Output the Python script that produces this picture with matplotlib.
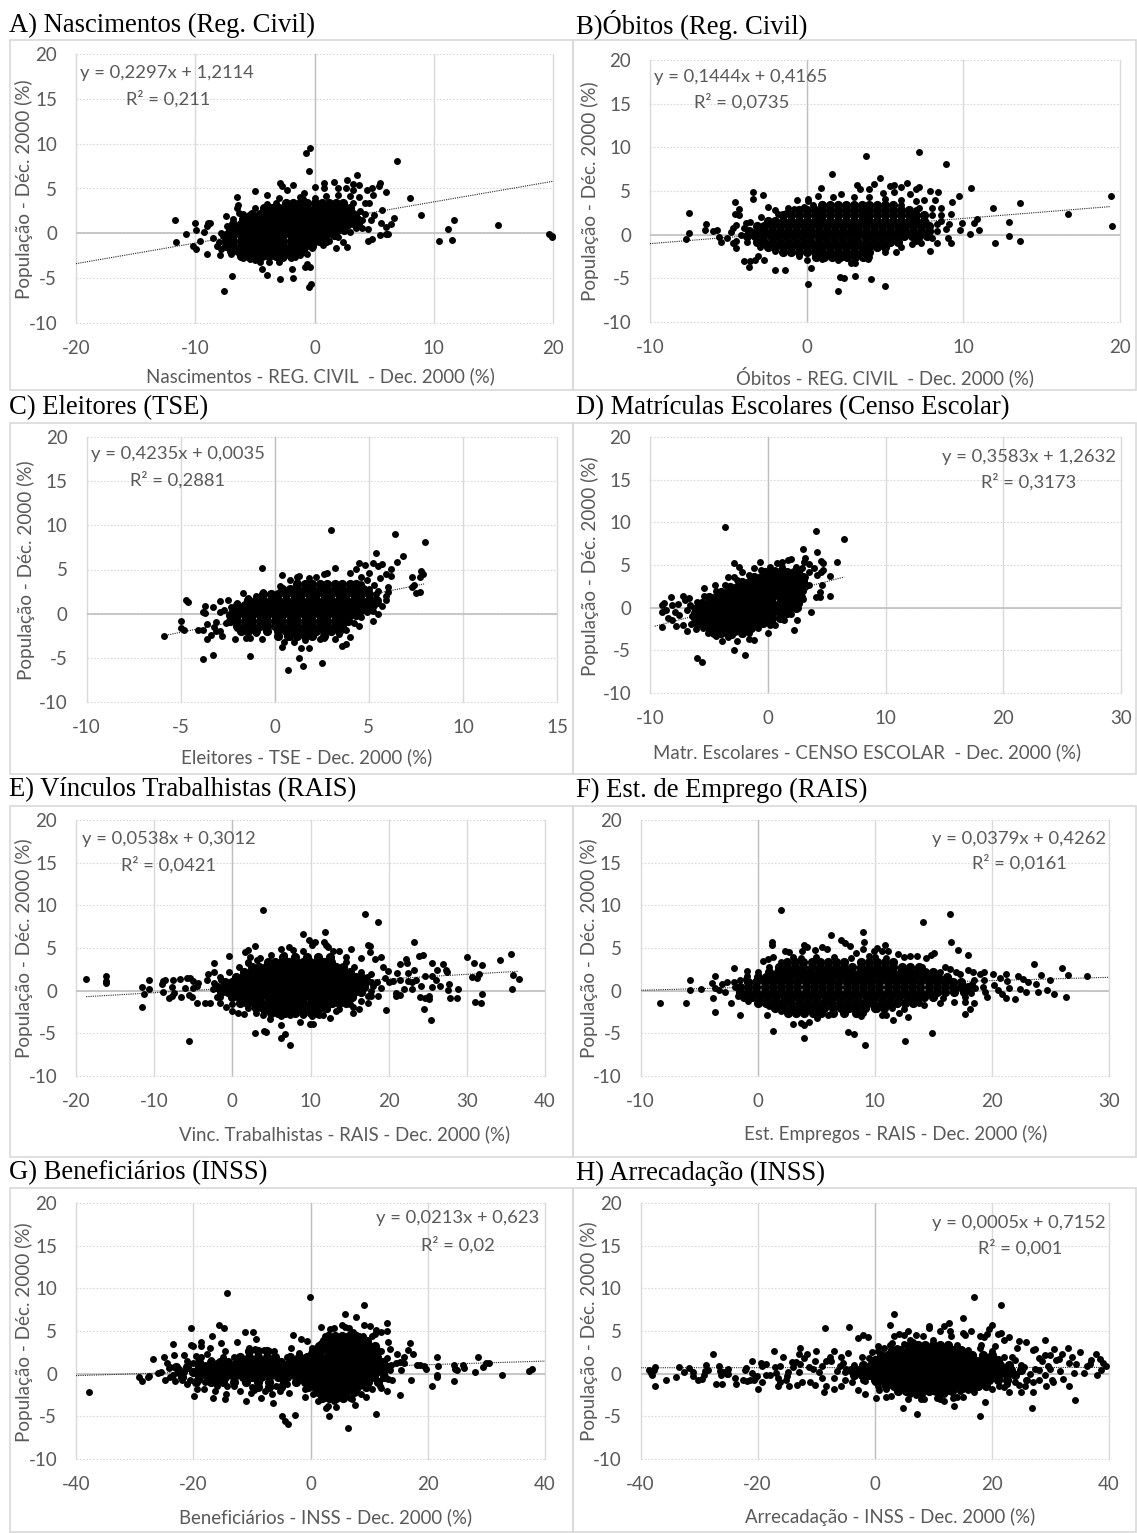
import matplotlib
matplotlib.use("Agg")
import matplotlib.pyplot as plt
from matplotlib.patches import Rectangle

W, H = 1137, 1533
GRAY = "#595959"
LIGHT = "#D9D9D9"

# valores: pontos soltos em pares, borda das nuvens, miolo por linhas
a_pts = [(-11.7,1.5),(-11.6,-1),(-10.8,-0.1),(-10.2,-1.4),(-10,1.2),(-9.9,0.4),(-9.9,-1.8),(-9.6,-0.9),(-9,0.8),(-8.9,1.1),(-8.8,1.2),(-9,-2.3),(-9.3,0.2),(-8.5,-0.5),(-8.2,-1.4),(-7.9,-2.4),(-7.7,-0.3),(-7.6,-6.4),(-7.4,1.9),(-6.9,-4.8),(-6.5,4),(-6.4,3.2),(-6.5,2.8),(-6.3,2.3),(-5,4.7),(-5.5,2),(-4.4,-4),(-4,-4.7),(-4,4.3),(-2.9,-5.1),(-2.9,5.6),(-2.7,5.3),(-1.8,5.4),(-2.3,4.8),(-1.9,-4),(-1.8,-5),(-0.9,4.5),(-0.7,9),(-0.4,9.5),(-0.5,6.9),(-0.5,-6),(-0.3,-5.6),(-0.6,-3.4),(-0.8,-3.7),(-0.4,-3.7),(-0.6,-2.3),(0,5.2),(0.8,5.6),(0.8,5),(1.6,5.7),(2,5),(2.6,5),(2.7,5.9),(3.2,5.5),(3.6,6.5),(3.7,5.4),(3.2,4.8),(4.4,4.8),(4.8,5.1),(5.4,5.3),(5.5,5.6),(4.9,4.3),(6,4.6),(6.9,8.1),(8,3.9),(8.9,2),(10.4,-0.8),(11.2,0.5),(11.5,-0.7),(11.7,1.5),(15.4,0.9),(19.7,-0.1),(19.9,-0.3),(19.9,-0.4),(5.7,2.6),(6.7,1.7),(6.4,1),(6,0.7),(5.6,1.2),(6.2,-0.1),(6,-0.1),(5.5,-0.2),(4.8,-0.6),(4.5,-0.8),(4.5,0.5),(4,0.6),(5,2),(4.7,1.5),(4.2,3.4),(4.6,3.4),(2.7,-1.5),(1.8,-1.6),(2.4,-1),(0.7,-1.3),(3.5,2),(3.8,2.5),(4,1.5),(3.7,1),(-6,-2.7),(-5.4,-2.9),(-4.6,-3.2),(-3.8,-3.2),(-2.6,-2.8),(-2,-2.8),(-1.6,-2.6),(-3,3.9),(-1.2,4.1),(1,4.2),(2,4.3),(3,4.2),(3.7,4.1)]
a_edge = [(-7.8,-1.8),(-8,-1),(-7.8,0),(-7.3,0.8),(-6.8,1.6),(-6,2.2),(-5,2.8),(-4,3.3),(-3.2,3.4),(-7,-2.3),(-5,-3),(-3,-3.2),(-1.2,-2.4),(-0.2,-1.6),(1.2,-0.8),(2,-0.4),(3,0.2),(3.5,0.6),(4.2,2.2),(3.2,3.4),(0,3.9),(-1,3.8)]
a_core_y = [3.4, 2.8, 2.2, 1.6, 1.0, 0.4, -0.2, -0.8, -1.4, -2.0, -2.5]
a_core_x = [
    [-2.4,-1.8,-1.2,-0.6,0,0.6,1.2,1.8,2.4],
    [-4.2,-3.6,-3,-2.4,-1.8,-1.2,-0.6,0,0.6,1.2,1.8,2.4,3],
    [-5.2,-4.6,-4,-3.4,-2.8,-2.2,-1.6,-1,-0.4,0.2,0.8,1.4,2,2.6,3.2],
    [-6,-5.4,-4.8,-4.2,-3.6,-3,-2.4,-1.8,-1.2,-0.6,0,0.6,1.2,1.8,2.4,3,3.6],
    [-6.8,-6.2,-5.6,-5,-4.4,-3.8,-3.2,-2.6,-2,-1.4,-0.8,-0.2,0.4,1,1.6,2.2,2.8,3.4],
    [-7.1,-6.5,-5.9,-5.3,-4.7,-4.1,-3.5,-2.9,-2.3,-1.7,-1.1,-0.5,0.1,0.7,1.3,1.9,2.5],
    [-7.4,-6.8,-6.2,-5.6,-5,-4.4,-3.8,-3.2,-2.6,-2,-1.4,-0.8,-0.2,0.4,1,1.6],
    [-7.4,-6.8,-6.2,-5.6,-5,-4.4,-3.8,-3.2,-2.6,-2,-1.4,-0.8,-0.2,0.4,1],
    [-7.4,-6.8,-6.2,-5.6,-5,-4.4,-3.8,-3.2,-2.6,-2,-1.4,-0.8,-0.2],
    [-7,-6.4,-5.8,-5.2,-4.6,-4,-3.4,-2.8,-2.2,-1.6,-1],
    [-6.2,-5.6,-5,-4.4,-3.8,-3.2,-2.6,-2],
]

b_pts = [(-7.7,-0.5),(-7.5,0.2),(-7.5,2.5),(-6.5,0.5),(-6.4,1.2),(-6,0.4),(-5.7,0.5),(-5.6,-0.3),(-5.5,-0.8),(-5.1,-0.4),(-4.8,0.3),(-4.7,-1),(-4.7,0.8),(-4.6,2.4),(-4.5,-1.5),(-4.5,1.1),(-4.5,-0.7),(-4.6,3.7),(-4.3,2.9),(-4.3,2.2),(-3.9,1.3),(-3.4,4.9),(-3.4,4.1),(-3.7,-3.7),(-4,-3),(-3.6,-3),(-3.1,-2.4),(-3.3,-2.9),(-2.8,4.5),(-2.5,3.2),(-2.7,-2.9),(-2,-4),(-1.4,-4),(-2,2.8),(-1.3,2.5),(-0.6,4),(0.1,3.9),(0.1,4.1),(0.7,4.4),(0.9,5.4),(1.6,7),(1.7,4.3),(2.2,4.7),(1,3.5),(0.3,-3.8),(0.1,-5.6),(0,-2.9),(2,-6.4),(2.1,-4.8),(2.4,-5),(3.1,-4.7),(2.8,-3.2),(3.1,-3.3),(3.9,-2.8),(4.1,-5.1),(3.8,9),(3.2,5.7),(3.4,5.2),(4,5.2),(4.3,5.8),(4.7,6.5),(4.9,4.8),(5.3,5.6),(5.6,5.7),(5.6,4.9),(6,5.5),(5,-5.9),(6.4,5.9),(7,5.2),(7.2,5.5),(7.2,9.5),(7.9,5),(8.4,4.9),(8.9,8.1),(8.2,4),(7.5,4),(6.6,4.7),(5.7,-2),(7.9,-1.9),(6.7,-1.1),(7.3,-0.9),(8.3,-1),(9.2,-1),(9,-0.4),(8.6,3.1),(8.6,2.3),(8.6,1.6),(9.2,2.4),(9.3,3.7),(9.7,4.4),(9.1,1.2),(8.9,0.6),(9.8,0.5),(9.9,1.3),(10.4,0.1),(10.5,5.4),(10.9,1.8),(10.7,1.3),(11,0.5),(11.9,3),(12,-1),(12.9,-0.1),(12.9,1.4),(13.6,3.6),(13.6,-0.7),(16.7,2.4),(19.4,4.4),(19.5,1),(3,4.3),(4,4.3),(5,4.1),(6,4),(7,3.8),(-1.2,3),(-0.2,3.2),(7.2,3),(8,3)]
b_edge = [(-4.2,0),(-4,0.8),(-3.6,1.4),(-2.9,2),(-1.8,2.4),(-0.8,2.9),(0.4,3.4),(6,3.4),(7,2.8),(8,2.2),(8.3,1.2),(8.3,0.4),(8,-0.4),(7,-0.7),(6,-1.4),(5,-2),(4,-2.5),(2,-2.9),(1,-2.8),(-0.5,-2.4),(-2,-1.9),(-3,-1.4),(-3.8,-0.8)]
b_core_y = [3.4, 2.8, 2.2, 1.6, 1.0, 0.4, -0.2, -0.8, -1.4, -2.0, -2.5]
b_core_x = [
    [1,1.5,2,2.5,3,3.5,4,4.5,5,5.5],
    [-0.5,0,0.5,1,1.5,2,2.5,3,3.5,4,4.5,5,5.5,6,6.5],
    [-1.5,-1,-0.5,0,0.5,1,1.5,2,2.5,3,3.5,4,4.5,5,5.5,6,6.5,7,7.5],
    [-2.5,-2,-1.5,-1,-0.5,0,0.5,1,1.5,2,2.5,3,3.5,4,4.5,5,5.5,6,6.5,7,7.5],
    [-3.2,-2.7,-2.2,-1.7,-1.2,-0.7,-0.2,0.3,0.8,1.3,1.8,2.3,2.8,3.3,3.8,4.3,4.8,5.3,5.8,6.3,6.8,7.3,7.8],
    [-3.7,-3.2,-2.7,-2.2,-1.7,-1.2,-0.7,-0.2,0.3,0.8,1.3,1.8,2.3,2.8,3.3,3.8,4.3,4.8,5.3,5.8,6.3,6.8,7.3,7.8],
    [-3.8,-3.3,-2.8,-2.3,-1.8,-1.3,-0.8,-0.3,0.2,0.7,1.2,1.7,2.2,2.7,3.2,3.7,4.2,4.7,5.2,5.7,6.2,6.7,7.2,7.7],
    [-3.2,-2.7,-2.2,-1.7,-1.2,-0.7,-0.2,0.3,0.8,1.3,1.8,2.3,2.8,3.3,3.8,4.3,4.8,5.3,5.8],
    [-2.5,-2,-1.5,-1,-0.5,0,0.5,1,1.5,2,2.5,3,3.5,4,4.5,5],
    [-1.5,-1,-0.5,0,0.5,1,1.5,2,2.5,3,3.5,4],
    [0.6,1.1,1.6,2.1,2.6,3.1,3.6],
]

c_pts = [(-5.9,-2.5),(-5,-0.8),(-5,-1.6),(-4.8,-1.8),(-4.7,1.6),(-4.6,1.3),(-4.1,-1.9),(-3.8,-1.9),(-3.8,0.2),(-3.7,0.9),(-3.7,0.1),(-3.6,-2.9),(-3.6,-1.2),(-3.4,-2.4),(-3.3,0.8),(-3.2,-1.5),(-3.1,-0.9),(-3.1,-2),(-2.9,1.4),(-2.9,0.2),(-2.9,-2),(-2.8,-2.5),(-2.5,1.5),(-3.8,-5.1),(-3.3,-4.7),(-1.3,-4.8),(-2.1,-2.9),(-1.5,-2.7),(-1.3,-2.7),(-0.7,-2.9),(-1.7,2.3),(-1,2),(-0.7,5.2),(0.4,4.4),(0.3,3.1),(0.8,3.8),(1.2,4.2),(1.3,4.3),(1.8,4),(2.2,4.2),(2.6,4.5),(2.8,4.6),(3.2,5.2),(0.4,-3.8),(0.5,-3.2),(1,-3.2),(1.4,-3.9),(1.8,-3.9),(0.7,-6.4),(1.3,-5),(1.5,-5.9),(2.5,-5.6),(1.6,-3),(2.4,-2.9),(3.2,-2.9),(3.6,-3.7),(3.8,-3.4),(4,-2.6),(4.5,-1.4),(3,9.5),(4.5,5.7),(4.3,5.1),(4.8,5.5),(5.2,5.7),(5.5,5.4),(5.7,5.6),(5.4,6.9),(4,4.6),(5.6,4),(5.9,4.5),(6.2,4.3),(6.2,5.1),(6.5,5.9),(6.8,6.5),(6.4,9),(8,8.1),(7.3,4.1),(7.8,4.8),(7.9,4.5),(7.7,4.1),(7.4,3.3),(7.3,3),(7.5,2.3),(7.7,2.4),(6,3),(6,2.5),(5.9,2),(5.9,1.6),(5.5,1.5),(5.7,0.9),(5.4,1.2),(5.5,0),(5.2,-0.8),(4.9,0.2),(5.2,0.3),(4.4,-0.1),(-2.4,-0.5),(-2.6,-1),(-2.7,0.4),(-2.3,0.8),(4.6,4.2),(5,4.6),(5.3,3.3),(5.5,2.6),(4.9,3.8)]
c_edge = [(-2,1.2),(-1.4,1.8),(-0.6,2.4),(0.4,2.9),(1.2,3.6),(4.6,3.4),(5,2.8),(5.4,2.2),(5.5,1.2),(5,0.4),(4.6,-0.4),(4.2,-1.1),(3.8,-1.8),(3.4,-2.3),(2.6,-2.7),(0.8,-2.6),(-1,-2.2),(-2,-1.6)]
c_core_y = [3.4, 2.8, 2.2, 1.6, 1.0, 0.4, -0.2, -0.8, -1.4, -2.0, -2.5]
c_core_x = [
    [1.2,1.6,2,2.4,2.8,3.2,3.6,4,4.3],
    [0.4,0.8,1.2,1.6,2,2.4,2.8,3.2,3.6,4,4.4,4.7],
    [-0.6,-0.2,0.2,0.6,1,1.4,1.8,2.2,2.6,3,3.4,3.8,4.2,4.6,5],
    [-1.4,-1,-0.6,-0.2,0.2,0.6,1,1.4,1.8,2.2,2.6,3,3.4,3.8,4.2,4.6,5,5.4],
    [-2,-1.6,-1.2,-0.8,-0.4,0,0.4,0.8,1.2,1.6,2,2.4,2.8,3.2,3.6,4,4.4,4.8,5.2],
    [-2.2,-1.8,-1.4,-1,-0.6,-0.2,0.2,0.6,1,1.4,1.8,2.2,2.6,3,3.4,3.8,4.2,4.6],
    [-2.4,-2,-1.6,-1.2,-0.8,-0.4,0,0.4,0.8,1.2,1.6,2,2.4,2.8,3.2,3.6,4,4.3],
    [-2.4,-2,-1.6,-1.2,-0.8,-0.4,0,0.4,0.8,1.2,1.6,2,2.4,2.8,3.2,3.6,3.9],
    [-2,-1.6,-1.2,-0.8,-0.4,0,0.4,0.8,1.2,1.6,2,2.4,2.8,3.2,3.6],
    [-1.8,-1.4,-1,-0.4,0.2,0.6,1,1.4,1.8,2.2,2.6,3,3.4],
    [0.2,0.7,1.2,1.6,2,2.6],
]

d_pts = [(-9,0.3),(-8.8,0.5),(-9,-0.5),(-8.6,-0.3),(-8.5,-1.2),(-8.2,1.2),(-8.1,0.3),(-7.9,-0.5),(-8.1,-1.5),(-7.8,-2.1),(-9,-2.3),(-7.2,1.4),(-7,0.9),(-6.7,1.1),(-6.9,-2.7),(-7.2,-2),(-6.5,-1.9),(-6.1,-2.5),(-5.4,2.3),(-5.5,-2.4),(-5.1,-3),(-4.5,2.6),(-4.4,-3.3),(-3.9,-3.9),(-3.4,-3.4),(-3.6,9.5),(-3.4,3.6),(-2.8,-2.9),(-2.9,-5),(-2.9,5.2),(-2.4,4.8),(-2.2,4.2),(-2.6,-3.9),(-2.2,-3.1),(-1.9,-5.6),(-1.6,-3.7),(-1.2,-3.8),(-6,-5.9),(-5.6,-6.4),(-2.9,3.6),(-1.2,4.6),(-0.7,5.4),(0,-3),(0.2,-2),(0.2,4.8),(0.8,5.2),(1.2,5.4),(1.7,5.6),(2,5.7),(2.2,-2.6),(2.5,-1.4),(2.9,4.6),(3,6.9),(3.2,5.8),(3.1,5.4),(3.5,5.1),(4.2,6.5),(4.1,9),(3.7,-0.5),(3.9,4.7),(4.5,5.5),(4.7,5.2),(4.5,4.2),(4.7,4.4),(4.2,3.8),(5.3,3.7),(4.6,2.7),(4.4,1.8),(4.1,1.3),(4.4,1.2),(5.3,1.4),(5.9,5.3),(6.5,8.1),(3.5,2.6),(3,2),(3.1,3.2),(2.7,1.5),(-7.6,0.4),(-7.5,-0.9),(-6.9,-0.3),(-6.6,0.3),(3.5,4.2),(2.4,4.8),(1.2,4.8)]
d_edge = [(-6.4,-1),(-6.3,0),(-6,0.7),(-5.4,1.4),(-4.4,2),(-3.6,2.6),(-2.6,3.2),(-1.6,3.8),(-0.6,4.4),(0.6,4.4),(3.2,3.6),(3.2,2.4),(3,1),(2.6,0),(2,-0.8),(1.4,-1.4),(0.6,-2),(-0.8,-2.4),(-1.6,-3),(-3,-3.2),(-5,-2.8),(-6,-2)]
d_core_y = [4.2, 3.6, 3.0, 2.4, 1.8, 1.2, 0.6, 0.0, -0.6, -1.2, -1.8, -2.4, -3.0]
d_core_x = [
    [-0.2,0.4,1,1.6,2.2,2.6],
    [-1.2,-0.6,0,0.6,1.2,1.8,2.4,3],
    [-2.2,-1.6,-1,-0.4,0.2,0.8,1.4,2,2.6,3],
    [-3.2,-2.6,-2,-1.4,-0.8,-0.2,0.4,1,1.6,2.2,2.8],
    [-4,-3.4,-2.8,-2.2,-1.6,-1,-0.4,0.2,0.8,1.4,2,2.6],
    [-5,-4.4,-3.8,-3.2,-2.6,-2,-1.4,-0.8,-0.2,0.4,1,1.6,2.2,2.8],
    [-5.6,-5,-4.4,-3.8,-3.2,-2.6,-2,-1.4,-0.8,-0.2,0.4,1,1.6,2.2,2.6],
    [-6,-5.4,-4.8,-4.2,-3.6,-3,-2.4,-1.8,-1.2,-0.6,0,0.6,1.2,1.8,2.4],
    [-6.2,-5.6,-5,-4.4,-3.8,-3.2,-2.6,-2,-1.4,-0.8,-0.2,0.4,1,1.6],
    [-6.2,-5.6,-5,-4.4,-3.8,-3.2,-2.6,-2,-1.4,-0.8,-0.2,0.4,1],
    [-5.8,-5.2,-4.6,-4,-3.4,-2.8,-2.2,-1.6,-1,-0.4,0.3],
    [-5,-4.4,-3.8,-3.2,-2.6,-2,-1.4],
    [-4.6,-4,-3.4,-2.2],
]

e_pts = [(-18.7,1.4),(-16.2,1.7),(-16.2,1.1),(-16.1,0.9),(-11.6,0.4),(-11.5,-1.9),(-11.3,-0.4),(-10.7,1.3),(-10.6,0.2),(-9,0.8),(-8.9,1.1),(-8.9,-0.1),(-8.6,1.2),(-8.1,-0.9),(-7.7,-0.6),(-7.7,0.4),(-7.6,1.2),(-7.4,-0.3),(-6.7,1.4),(-6.6,-0.8),(-6.1,0.3),(-5.8,1.5),(-5.4,1.5),(-5.5,-0.5),(-5.5,-5.9),(-5,1.1),(-5.1,-0.7),(-5,0.3),(-4.5,-1.4),(-4.5,0.5),(-4.4,0.9),(-3.5,-1.4),(-3.3,1.3),(-3.1,2),(-2.8,-1.4),(-2.4,2.2),(-2.3,3.2),(-2,-0.8),(-1.5,1.2),(-1.6,-1.5),(-0.8,-1.9),(-0.4,4.1),(-0.1,-2.4),(0.7,-2.6),(1.5,-2.7),(1.6,4.5),(2,4.8),(2,3.4),(2.3,3.9),(2.9,5.2),(3.2,3.6),(2.9,-5),(3.9,9.5),(4,-4.7),(4.3,-4.8),(3.9,-2.9),(4.8,-3.3),(6.2,-3),(6.2,-4),(6.2,-5.6),(6.8,-5.1),(7.4,-6.4),(6.2,4.9),(6.6,4.2),(7.2,5.1),(7.7,4.8),(7.4,-2.8),(8.6,-3.7),(9,6.6),(9,-2.8),(9,4.7),(9.8,5.9),(10.2,5.4),(10.6,5.7),(9.9,-3.9),(10.3,-3.9),(10.2,-3),(11.1,-2.8),(11.7,5.7),(11.8,6.9),(12,5.4),(12.2,5.1),(12.5,-3.2),(12.1,-2.2),(12.9,4.7),(13.6,4.7),(13.7,-2.2),(14.5,3.9),(15.2,4.9),(15.5,-2.6),(15,-1.6),(16.2,-2.1),(16.5,3.8),(17,9),(17.4,-1.4),(17.3,5.4),(17.6,5.2),(17.6,4.5),(18.6,8.1),(18.2,3.7),(19,3.9),(19.7,-2.3),(19.3,2.8),(19.9,2.3),(19.5,1.5),(18.6,-0.6),(20,1),(20.9,-0.6),(21.1,2.1),(21.5,3.1),(21.5,1.3),(21.5,-0.5),(22.2,3.7),(22.4,3.3),(22.5,2.1),(22.5,1.1),(23,0.2),(23.3,5.7),(23.3,2.4),(23.5,1.2),(23.9,4.1),(24.2,0.6),(24.4,4.2),(24,-0.7),(24.6,1.7),(24.5,-2.1),(24.7,-0.9),(25.4,-3.4),(25.2,-0.6),(25.2,-1),(25.5,3.2),(25.5,0.4),(25.5,1.7),(26.2,2.4),(26.6,0.6),(27,3.1),(27.3,2.4),(27.4,2.2),(27.6,0.1),(27.7,0.8),(27.9,-0.9),(28.7,-0.9),(28.9,0.2),(30,4),(30.7,1.6),(30.9,3.2),(31,-1.3),(31.3,1.5),(31.6,2),(31.8,-1.4),(32,3),(32,-0.4),(34.3,3.6),(35.7,4.3),(35.8,0.2),(35.9,1.8),(36.7,1.4),(21,-0.3),(20.6,1.1),(22,0.2),(23,1),(26,1.2),(18.5,1),(19,0.3),(17.8,2),(17.8,-0.6),(18,0.5)]
e_edge = [(-2.5,0.2),(-2.4,0.9),(-1.6,1.6),(-0.4,2.2),(0.8,2.8),(2,3.2),(3.6,3.8),(5,4.2),(14.6,3.4),(15.6,2.8),(16.4,2.2),(17.2,1.6),(17.8,1),(17.8,0),(17.4,-0.6),(16.4,-1.2),(15.4,-1.9),(13.2,-2.4),(11.6,-2.8),(4,-2.4),(2,-2),(0,-1.6),(-1.6,-0.7),(3,-2.6)]
e_core_y = [4.0, 3.4, 2.8, 2.2, 1.6, 1.0, 0.4, -0.2, -0.8, -1.4, -2.0, -2.6]
e_core_x = [
    [6.5,8,9.5,11,12.5],
    [4.5,5.4,6.3,7.2,8.1,9,9.9,10.8,11.7,12.6],
    [2.5,3.4,4.3,5.2,6.1,7,7.9,8.8,9.7,10.6,11.5,12.4,13.3,14.2],
    [1.5,2.4,3.3,4.2,5.1,6,6.9,7.8,8.7,9.6,10.5,11.4,12.3,13.2,14.1,15],
    [0.5,1.4,2.3,3.2,4.1,5,5.9,6.8,7.7,8.6,9.5,10.4,11.3,12.2,13.1,14,14.9,15.8,16.5],
    [-1,-0.1,0.8,1.7,2.6,3.5,4.4,5.3,6.2,7.1,8,8.9,9.8,10.7,11.6,12.5,13.4,14.3,15.2,16.1,17],
    [-2,-1.1,-0.2,0.7,1.6,2.5,3.4,4.3,5.2,6.1,7,7.9,8.8,9.7,10.6,11.5,12.4,13.3,14.2,15.1,16,16.9],
    [-1.5,-0.6,0.3,1.2,2.1,3,3.9,4.8,5.7,6.6,7.5,8.4,9.3,10.2,11.1,12,12.9,13.8,14.7,15.6,16.5],
    [0,0.9,1.8,2.7,3.6,4.5,5.4,6.3,7.2,8.1,9,9.9,10.8,11.7,12.6,13.5,14.4,15.3],
    [1,1.9,2.8,3.7,4.6,5.5,6.4,7.3,8.2,9.1,10,10.9,11.8,12.7,13.6,14.5],
    [3,3.9,4.8,5.7,6.6,7.5,8.4,9.3,10.2,11.1,12],
    [5,5.9,6.8,8,9,10,10.8],
]

f_pts = [(-8.3,-1.4),(-6.1,-1.4),(-5.8,1.2),(-5.8,0.1),(-4.8,0.2),(-3.9,0.9),(-3.8,-0.9),(-3.6,1.7),(-3.6,-2.5),(-3.6,0.3),(-3.3,0.1),(-3,0.8),(-2.8,-0.1),(-2.6,1),(-2.3,-1.5),(-2,2.6),(-2,1),(-1.5,-2.9),(-1.5,1.2),(-0.9,2.3),(-0.9,1.7),(-0.8,-1.2),(0.5,3.5),(0.9,3.7),(1.3,4),(1.2,5.7),(1.2,5.3),(0.8,-2.9),(1.3,-4.7),(2,9.5),(2.3,4.7),(2.7,4.5),(3,-3.9),(3.7,-3.8),(3.7,3.8),(3.8,4.7),(4,5.4),(4.2,5.1),(4,-5.6),(4,-4),(4.4,-3.7),(4.9,4.8),(5.5,5.1),(5.9,4.9),(6.3,6.5),(5.1,-3.2),(6,-2.9),(7.1,5.9),(7.5,5.6),(7.9,5.2),(7.7,-4.8),(8.2,-5.1),(8.4,4.4),(8.8,-3),(9,4.9),(9,6.9),(9.1,5.7),(9.2,-6.4),(9.5,4.1),(9.9,4.6),(10.2,5),(10.6,4.7),(10.9,5.4),(11.1,4.6),(10.2,-2.2),(10.6,-2.8),(11,-2.8),(11.6,-3.4),(12.1,-2.6),(12.5,-2.1),(12.6,-5.9),(12.8,-3.1),(12,4.3),(12.5,4),(13,4.1),(13.6,4.1),(14.1,8.1),(14.4,3.8),(14.8,4.2),(15.1,4.4),(14.9,-5),(14.2,-1.7),(13.8,-1.5),(15.6,-1.4),(16,2.8),(16.4,9),(16.5,5.7),(16.4,2.5),(16.8,-1.3),(17.1,4.8),(18,4.2),(18,2.4),(16.9,2.2),(17.3,1.9),(18.4,2.2),(17.7,-2.7),(18.1,-2.1),(18.5,-1.5),(17.7,-1.3),(17.7,-0.8),(18.5,1.2),(18.6,0.3),(19,2),(19.3,2.2),(19.3,1.3),(19.2,0.4),(19.4,-0.1),(19.6,-0.7),(20.1,1.9),(20.2,0.7),(20.5,0.1),(20.7,1.5),(20.9,-0.4),(21.2,2),(21.2,-0.9),(21.3,1.1),(21.5,0.3),(22,-1),(22.2,1.7),(22.4,0.2),(22.7,1.4),(22.9,-0.2),(23.1,1),(23.6,3.1),(23.8,0.8),(23.9,-0.2),(24.2,1.8),(24.7,0.1),(25,1.2),(25.3,-0.4),(26,2.7),(26.3,-0.7),(26.5,1.8),(28.1,1.7),(3,4),(5,4),(6.5,4),(8,3.8),(10,3.9),(11,3.8)]
f_edge = [(-1.9,0.4),(-1.7,-0.6),(-1,1.4),(0,2.2),(1,2.8),(2,3.4),(14,2.8),(15.6,2.2),(18.3,0.8),(18.2,-0.3),(15.8,-0.9),(13.8,-1),(11.5,-2),(9,-2.6),(1,-1.8),(0,-1.5),(2,-2.4)]
f_core_y = [3.4, 2.8, 2.2, 1.6, 1.0, 0.4, -0.2, -0.8, -1.4, -2.0, -2.6]
f_core_x = [
    [2.5,3.2,3.9,4.6,5.3,6,6.7,7.4,8.8,9.5,10.2,10.9,11.6],
    [1.8,2.5,3.2,3.9,4.6,5.3,6,6.7,7.4,8.1,8.8,9.5,10.2,10.9,11.6,12.3,13,13.8],
    [1,1.7,2.4,3.1,3.8,4.5,5.2,5.9,6.6,7.3,8,8.7,9.4,10.1,10.8,11.5,12.2,12.9,13.6,14.3,15],
    [0,0.7,1.4,2.1,2.8,3.5,4.2,4.9,5.6,6.3,7,7.7,8.4,9.1,9.8,10.5,11.2,11.9,12.6,13.3,14,14.7,15.4,16.2],
    [-0.8,-0.1,0.6,1.3,2,2.7,3.4,4.1,4.8,5.5,6.2,6.9,7.6,8.3,9,9.7,10.4,11.1,11.8,12.5,13.2,13.9,14.6,15.3,16,16.7,17.4],
    [-1.5,-0.8,-0.1,0.6,1.3,2,2.7,3.4,4.1,4.8,5.5,6.2,6.9,7.6,8.3,9,9.7,10.4,11.1,11.8,12.5,13.2,13.9,14.6,15.3,16,16.7,17.4,18],
    [-1.5,-0.8,-0.1,0.6,1.3,2,2.7,3.4,4.1,4.8,5.5,6.2,6.9,7.6,8.3,9,9.7,10.4,11.1,11.8,12.5,13.2,13.9,14.6,15.3,16,16.8,17.6],
    [-1.2,-0.5,0.2,0.9,1.6,2.3,3,3.7,4.4,5.1,5.8,6.5,7.2,7.9,8.6,9.3,10,10.7,11.4,12.1,12.8,13.5,14.2,15],
    [0,0.7,1.4,2.1,2.8,3.5,4.2,4.9,5.6,6.3,7,7.7,8.4,9.1,9.8,10.5,11.2,11.9,12.6,13.3],
    [1.5,2.2,2.9,3.6,4.3,5,5.7,6.4,7.1,7.8,8.5,9.2,10,10.8],
    [2.6,3.3,4,4.7,5.4,6.4,7.4,8.4],
]

g_pts = [(-37.7,-2.1),(-29.3,-0.4),(-28.8,-0.9),(-27.8,-0.4),(-27.5,-0.3),(-26.9,1.7),(-26,0.1),(-25.5,0.2),(-25,1.9),(-24.9,-0.7),(-24.5,1.2),(-24.2,0.7),(-23.5,3.5),(-23.2,2.2),(-23.1,-0.9),(-22.5,0.6),(-22,-0.7),(-21.6,2.2),(-21,1.5),(-21,-1.2),(-20.4,5.3),(-20.4,3.4),(-20,3.2),(-19.9,-2.6),(-19.6,2.1),(-19.3,-1.8),(-18.7,3.7),(-18.6,3.2),(-18.6,2),(-18.2,-1.8),(-17.6,2.3),(-16.8,4.4),(-17.1,3),(-16.7,-2.8),(-16.3,-2),(-15.9,-1.5),(-15.6,5.7),(-15.3,3.6),(-14.8,5.4),(-14.6,2.6),(-14.6,-3),(-14.4,-2.4),(-14.2,9.5),(-14.2,-1.5),(-12.5,3.7),(-11.2,4.9),(-11,-3.2),(-10.5,3),(-10.2,-2.3),(-9.8,4.9),(-9.3,4.1),(-8.5,-2.8),(-7.8,-2),(-6.5,-2.4),(-6.4,-3.4),(-6.2,2.6),(-5.9,-1.5),(-5.2,-2),(-4.8,-5),(-4.3,-5.6),(-3.9,-5.9),(-3.4,3),(-3.6,-2.3),(-3,4.5),(-2.7,-4.8),(-1.7,4.1),(-0.6,3.8),(-0.9,-2.7),(-0.1,9),(0.2,3),(1.3,-3.2),(1.8,5.5),(2.2,4),(2.7,-4),(3,-3.8),(3.2,-5),(3.4,5.2),(4,5.3),(4.3,-3.9),(4,-3.2),(5.3,5.7),(5.8,5.5),(5.9,7),(6.4,-6.4),(6.6,5.3),(7,-3),(7.3,4.9),(7.6,-3.7),(7.8,6.6),(7.7,-2.2),(8.3,4.4),(9,4.4),(9.1,8.1),(9.1,5.7),(9.5,-2.7),(10.1,5.6),(10.5,4.4),(11,4.6),(11.2,5.1),(11.1,-4.7),(12,4.9),(12,-1.7),(13,5.9),(13,5),(13,-2),(13.3,3.7),(13.5,2.9),(13.8,1),(13.9,-0.7),(14.5,1.2),(14.7,2.3),(15.2,-2.5),(15.3,1.4),(15.5,0.4),(16,1.9),(16,1.2),(16.6,2.8),(17,3.6),(17.1,-0.8),(17.5,2.3),(18.1,1),(18.6,1),(19.3,0.9),(19.7,0.5),(20.7,-1.5),(21.5,1.9),(21.5,-0.1),(21.5,-0.4),(21.8,0.9),(24.5,1),(24.5,-0.9),(24.7,0.6),(25,0.4),(26,1),(26.1,0.7),(28,0.2),(28.6,1.9),(29.5,0.8),(30,1.3),(30.5,1.2),(32.6,-0.1),(37.2,0.3),(37.7,0.6),(-18,-1),(-17,1.6),(-15,1.9),(-13,2),(-9.5,2.9),(-8,2.8),(-7,2.6),(-12,-2),(-9.6,-1.9),(-4,2),(-2,2.4)]
g_edge = [(-24,0.8),(-23.5,-0.2),(-21.5,0.2),(-20,1.2),(-20.5,-0.8),(-18,1),(-16,1.2),(-16,-0.9),(-13,-1.4),(-10,-1.6),(-7,-1.4),(-4,-1.2),(-3,1.6),(-1,2),(0,2.4),(1,3),(1.8,3.6),(2.5,4.4),(9,3.8),(11,3.2),(12,2.6),(13,1.8),(13.6,0.4),(13.2,-0.6),(11.8,-1.4),(10.5,-1.8),(8.6,-2.4),(6.8,-2.8),(0.5,-2.4),(-1,-1.8),(-24,-0.4),(-19,-0.8)]
g_core_y = [4.4, 3.8, 3.2, 2.6, 2.0, 1.4, 0.8, 0.2, -0.4, -1.0, -1.6, -2.2, -2.8]
g_core_x = [
    [3,4.2,5.4,6.6,7.8],
    [2.4,3.6,4.8,6,7.2,8.4,9.6],
    [1.5,2.7,3.9,5.1,6.3,7.5,8.7,9.9,11],
    [-10.5,-9,-7.5,0.5,1.7,2.9,4.1,5.3,6.5,7.7,8.9,10.1,11.3],
    [-12,-10.5,-9,-7.5,-6,-3.5,-2,-0.6,0.6,1.8,3,4.2,5.4,6.6,7.8,9,10.2,11.4],
    [-19,-17,-15.5,-14,-12.5,-11,-9.5,-8,-6.5,-5,-3.5,-2,-0.8,0.4,1.6,2.8,4,5.2,6.4,7.6,8.8,10,11.2,12.4],
    [-23,-21,-19,-17.5,-16,-14.5,-13,-11.5,-10,-8.5,-7,-5.5,-4,-2.5,-1.2,0,1.2,2.4,3.6,4.8,6,7.2,8.4,9.6,10.8,12,13.2],
    [-22.5,-20,-18.5,-17,-15.5,-14,-12.5,-11,-9.5,-8,-6.5,-5,-3.5,-2,-0.8,0.4,1.6,2.8,4,5.2,6.4,7.6,8.8,10,11.2,12.4],
    [-22,-19,-17.5,-16,-14.5,-13,-11.5,-10,-8.5,-7,-5.5,-4,-2.5,-1.2,0,1.2,2.4,3.6,4.8,6,7.2,8.4,9.6,10.8,12.6],
    [-19.5,-17,-15,-13,-11,-9,-7,-4.5,-2.5,-1,0.2,1.4,2.6,3.8,5,6.2,7.4,8.6,9.8,11.5],
    [-9,-7,-5,-0.4,0.8,2,3.2,4.4,5.6,6.8,8,9.5],
    [1.2,2.4,3.6,4.8,6,7.5],
    [2,3.2,4.4,5.6],
]

h_pts = [(-38.5,0.4),(-38.2,0.1),(-38,-0.1),(-37.7,0.4),(-37.6,0.8),(-37.6,-1.4),(-35.6,-0.8),(-34,-0.4),(-33.5,0.8),(-32.6,0.2),(-31.8,0.7),(-31,-0.3),(-31,0.2),(-30.2,-0.7),(-29.5,-0.6),(-29.2,-0.2),(-29,0.3),(-28.9,1),(-28.5,0.4),(-27.7,2.3),(-27.1,-1.2),(-26.6,0.9),(-26.4,0.3),(-26.3,-0.1),(-26,-1.2),(-25.8,0.2),(-25.3,0),(-25,0.6),(-25,0),(-23.8,-0.5),(-23.7,-1.2),(-22.5,-0.7),(-22.2,0.4),(-22,0.7),(-21.8,-0.9),(-21.3,-0.8),(-21,0.1),(-20.7,-0.8),(-20.5,-0.5),(-20.9,1.5),(-20,-1.8),(-20.1,-0.3),(-19.4,1.2),(-19.3,0.9),(-19.3,-1),(-18.5,1.1),(-18.5,-0.2),(-17.9,-0.1),(-17.2,2.7),(-17,0.8),(-16.8,0.1),(-16.5,-0.5),(-16.6,-1.5),(-16.2,-1),(-16.2,0.9),(-15.6,2),(-15.1,-0.7),(-15,-0.3),(-14.8,0.2),(-14.7,-1.5),(-14.2,1.4),(-14,0.8),(-13.5,1.4),(-13.2,-1.3),(-13,0.2),(-13,2.3),(-12.8,1.1),(-12.7,3),(-12.4,-1),(-12,1.8),(-11.5,2.3),(-11.3,0.8),(-11,-1),(-10.5,0.5),(-10.2,1.5),(-10,2.6),(-10.2,-1.3),(-9.5,0.2),(-9,0.9),(-9,-0.5),(-8.6,-2.1),(-8.4,1.5),(-8.5,5.3),(-8.4,-1.5),(-7.7,2),(-7.5,1.5),(-7,2.7),(-7,-0.5),(-7,-1.8),(-6.5,0.3),(-5.8,2),(-5.5,1.2),(-5.8,-1.5),(-4.9,0.5),(-4.5,2.4),(-4.4,5.5),(-3.9,-1),(-2.8,-1.9),(-2.9,4.2),(-2.1,2),(-2,4.5),(-1.7,-0.9),(-1.6,-2.4),(-1.2,4.3),(-0.5,2.5),(0.2,-2.8),(0.5,-1.5),(0.6,3.3),(0.8,-1.9),(2,-2.7),(2.6,5.7),(2.6,3.4),(2.8,-2.6),(3.3,4.4),(3.3,7),(3.8,3),(4.2,4.6),(4.9,-4),(5,4.5),(5.3,-2),(5.6,-3),(5.6,5),(6,4),(6.5,3.7),(7,4.5),(7,-2.5),(7.2,-4.7),(7.5,-2),(7.9,-3),(8.4,-3),(8.2,4.4),(9.3,5.4),(9.3,5.6),(9.8,-2),(10,3.9),(10.7,-2.9),(11.1,-3),(11.2,5),(11.8,-3.2),(11.8,-2.4),(11.9,5.6),(12.7,5.9),(12.8,5),(13,4.4),(13.6,-3.8),(13.4,-2.8),(14,-2.7),(14.6,-2),(15,-2.7),(15,6.5),(15.1,4.8),(15.4,4.5),(16,-1.9),(16.4,5),(17,9),(17.1,-1.5),(17.9,4.4),(18,-5),(18.1,3.4),(18.7,4.3),(18.8,-3.3),(19.2,4.6),(19.5,5.2),(20,5.7),(20.5,3.3),(21,4.7),(21.5,8.1),(21.5,4.8),(21.3,-1.5),(22,-1.6),(22,4),(23,4.3),(23,-2.2),(23.5,2),(24.3,3),(24.7,3.8),(24.6,-1.3),(25,1),(25,-2.2),(25.8,-0.7),(25.9,3.7),(25.7,-1.4),(26.9,-4),(27,-2.2),(27,2.8),(27.4,2.9),(27.3,0.6),(28,1.8),(28.6,1.5),(29,-0.2),(29,4),(29,2.2),(29.2,-1.4),(30,0.6),(30,2.2),(30.2,-0.7),(30.5,-1),(30.6,2.9),(31,1.6),(31.5,1.7),(31.6,0.3),(31.9,2.3),(32.2,-0.6),(33,3),(33.1,1.2),(33.2,-1.4),(33.6,1.9),(34.2,-3.1),(34.1,0.1),(34.4,1.1),(35,2.5),(35.8,0.1),(36.3,0.9),(36.8,1.1),(37,1.6),(37.7,2.3),(38,-0.2),(38.5,1.7),(38.7,0.4),(39,1.2),(39.5,0.9)]
h_edge = [(-5,0.2),(-3.5,1),(-1,1.8),(0.5,2.6),(1.5,3),(3,3.6),(5,3.5),(14,3.4),(16,2.8),(18,3),(20,2.6),(22,2),(24,1.6),(25.5,0.8),(26.5,0),(26,-0.8),(24,-1),(22.5,-1.2),(20,-1.8),(17,-2.2),(15,-1.8),(11,-2.4),(8,-2.4),(6,-2.4),(2,-1.8),(0,-1),(-2,-0.7),(-5,-0.7),(-6,0.9),(28,0.4),(27,-1),(28,-0.7),(29.5,0.9)]
h_core_y = [3.4, 2.8, 2.2, 1.6, 1.0, 0.4, -0.2, -0.8, -1.4, -2.0]
h_core_x = [
    [6,7.3,8.6,9.9,11.2,12.5],
    [3,4.3,5.6,6.9,8.2,9.5,10.8,12.1,13.4,14.7],
    [1,2.3,3.6,4.9,6.2,7.5,8.8,10.1,11.4,12.7,14,15.3,16.6,18.5,20],
    [0,1.3,2.6,3.9,5.2,6.5,7.8,9.1,10.4,11.7,13,14.3,15.6,16.9,18.2,19.5,21],
    [-2,-0.7,0.6,1.9,3.2,4.5,5.8,7.1,8.4,9.7,11,12.3,13.6,14.9,16.2,17.5,18.8,20.1,21.4,23],
    [-4,-2.7,-1.4,-0.1,1.2,2.5,3.8,5.1,6.4,7.7,9,10.3,11.6,12.9,14.2,15.5,16.8,18.1,19.4,20.7,22,23.3,25],
    [-3.5,-2.2,-0.9,0.4,1.7,3,4.3,5.6,6.9,8.2,9.5,10.8,12.1,13.4,14.7,16,17.3,18.6,19.9,21.2,22.5,24],
    [0,1.3,2.6,3.9,5.2,6.5,7.8,9.1,10.4,11.7,13,14.3,15.6,16.9,18.2,19.5,21,22.5],
    [2,3.3,4.6,5.9,7.2,8.5,9.8,11.1,12.4,13.7,15,16.3,17.6,19],
    [4,5.3,6.6,7.9,9.2,10.5,12,13.2],
]

pts_all = [a_pts + a_edge, b_pts + b_edge, c_pts + c_edge, d_pts + d_edge,
           e_pts + e_edge, f_pts + f_edge, g_pts + g_edge, h_pts + h_edge]
core_y_all = [a_core_y, b_core_y, c_core_y, d_core_y, e_core_y, f_core_y, g_core_y, h_core_y]
core_x_all = [a_core_x, b_core_x, c_core_x, d_core_x, e_core_x, f_core_x, g_core_x, h_core_x]

titles = ["A) Nascimentos (Reg. Civil)", "B)Óbitos (Reg. Civil)", "C) Eleitores (TSE)",
          "D) Matrículas Escolares (Censo Escolar)", "E) Vínculos Trabalhistas (RAIS)",
          "F) Est. de Emprego (RAIS)", "G) Beneficiários (INSS)", "H) Arrecadação (INSS)"]
xlabels = ["Nascimentos - REG. CIVIL  - Dec. 2000 (%)", "Óbitos - REG. CIVIL  - Dec. 2000 (%)",
           "Eleitores - TSE - Dec. 2000 (%)", "Matr. Escolares - CENSO ESCOLAR  - Dec. 2000 (%)",
           "Vinc. Trabalhistas - RAIS - Dec. 2000 (%)", "Est. Empregos - RAIS - Dec. 2000 (%)",
           "Beneficiários - INSS - Dec. 2000 (%)", "Arrecadação - INSS - Dec. 2000 (%)"]
ylabel = "População - Déc. 2000 (%)"
eqs = ["y = 0,2297x + 1,2114", "y = 0,1444x + 0,4165", "y = 0,4235x + 0,0035", "y = 0,3583x + 1,2632",
       "y = 0,0538x + 0,3012", "y = 0,0379x + 0,4262", "y = 0,0213x + 0,623", "y = 0,0005x + 0,7152"]
r2s = ["R² = 0,211", "R² = 0,0735", "R² = 0,2881", "R² = 0,3173",
       "R² = 0,0421", "R² = 0,0161", "R² = 0,02", "R² = 0,001"]
slopes = [0.2297, 0.1444, 0.4235, 0.3583, 0.0538, 0.0379, 0.0213, 0.0005]
intercepts = [1.2114, 0.4165, 0.0035, 1.2632, 0.3012, 0.4262, 0.623, 0.7152]
trend_from = [-20, -10, -5.9, -9.6, -18.7, -10, -40, -40]
trend_to = [20, 19.4, 8, 6.5, 36.5, 30, 40, 40]
xticks_all = [[-20, -10, 0, 10, 20], [-10, 0, 10, 20], [-10, -5, 0, 5, 10, 15], [-10, 0, 10, 20, 30],
              [-20, -10, 0, 10, 20, 30, 40], [-10, 0, 10, 20, 30], [-40, -20, 0, 20, 40], [-40, -20, 0, 20, 40]]
yticks = [-10, -5, 0, 5, 10, 15, 20]

# layout em pixels: esquerda, direita, topo (y=20), base (y=-10)
boxes = [(76, 553, 54, 323), (650, 1120, 60, 322), (86.5, 557, 437, 702), (650, 1121, 437, 693),
         (76, 545, 820, 1076), (640.5, 1109, 820, 1076), (76, 545, 1203, 1459), (640.5, 1109, 1203, 1459)]
frames = [(10, 573, 40, 390), (573, 1136, 40, 390), (10, 573, 423, 774), (573, 1136, 423, 774),
          (10, 573, 806, 1157), (573, 1136, 806, 1157), (10, 573, 1188, 1532), (573, 1136, 1188, 1532)]
title_pos = [(9, 25), (576, 25), (9, 408), (576, 408), (9, 790), (576, 790), (9, 1173), (576, 1173)]
eq_pos = [(167, 73), (741, 77), (178, 454), (1029, 457), (169, 839), (1019, 839), (458, 1218), (1019, 1223)]
r2_pos = [(168, 99), (742, 102), (178, 480), (1029, 482), (169, 865), (1019, 863), (458, 1245), (1020, 1248)]
xlab_pos = [(320, 376), (885, 377), (307, 757), (867, 752), (345, 1134), (896, 1134), (326, 1517), (890, 1517)]
ylab_pos = [(24, 189), (590, 191), (26, 570), (590, 566), (24, 948), (589, 948), (24, 1332), (589, 1331)]

plt.rcParams["font.family"] = ["Lato", "DejaVu Sans"]
plt.rcParams["axes.unicode_minus"] = False
fig = plt.figure(figsize=(W / 100, H / 100), dpi=100)


def fx(px):
    return px / W


def fy(py):
    return 1 - py / H


for i in range(8):
    x0, x1, ytop, ybot = frames[i]
    fig.add_artist(Rectangle((fx(x0), fy(ybot)), (x1 - x0) / W, (ybot - ytop) / H, transform=fig.transFigure,
                             fill=False, edgecolor=LIGHT, linewidth=1.2))

    left, right, top, bottom = boxes[i]
    ax = fig.add_axes([fx(left), fy(bottom), (right - left) / W, (bottom - top) / H])
    ax.patch.set_alpha(0)
    xticks = xticks_all[i]
    ax.set_xlim(xticks[0], xticks[-1])
    ax.set_ylim(-10, 20)
    ax.set_xticks(xticks)
    ax.set_yticks(yticks)
    ax.tick_params(length=0, labelsize=13.5, labelcolor=GRAY)
    ax.tick_params(axis="y", pad=13.5)
    ax.tick_params(axis="x", pad=12)
    for s in ax.spines.values():
        s.set_visible(False)
    for t in xticks:
        ax.axvline(t, color=LIGHT, lw=1, zorder=1, clip_on=False)
    for t in yticks:
        ax.axhline(t, color=LIGHT, lw=0.8, ls=(0, (1.5, 1.5)), zorder=1, clip_on=False)
    ax.axhline(0, color="#BFBFBF", lw=1.2, zorder=1.5)
    ax.axvline(0, color="#BFBFBF", lw=0.9, zorder=1.5)

    # linha de tendência
    tx = [trend_from[i], trend_to[i]]
    ty = [slopes[i] * v + intercepts[i] for v in tx]
    ax.plot(tx, ty, color="#262626", lw=0.8, ls=(0, (1, 1)), zorder=2)

    # miolo: marcador maior para a nuvem ficar fechada como no original
    cx, cy = [], []
    for row_y, row_x in zip(core_y_all[i], core_x_all[i]):
        cx += row_x
        cy += [row_y] * len(row_x)
    ax.scatter(cx, cy, s=44, color="black", linewidths=0, zorder=3)
    ax.scatter([p[0] for p in pts_all[i]], [p[1] for p in pts_all[i]], s=25, color="black", linewidths=0,
               zorder=3, clip_on=False)

    fig.text(fx(title_pos[i][0]), fy(title_pos[i][1]), titles[i], family="Liberation Serif", fontsize=19.2,
             color="black", ha="left", va="center")
    fig.text(fx(eq_pos[i][0]), fy(eq_pos[i][1]), eqs[i], fontsize=13.2, color=GRAY, ha="center", va="center", zorder=5)
    fig.text(fx(r2_pos[i][0]), fy(r2_pos[i][1]), r2s[i], fontsize=13.2, color=GRAY, ha="center", va="center", zorder=5)
    fig.text(fx(xlab_pos[i][0]), fy(xlab_pos[i][1]), xlabels[i], fontsize=13.4, color=GRAY, ha="center", va="center")
    fig.text(fx(ylab_pos[i][0]), fy(ylab_pos[i][1]), ylabel, fontsize=13.6, color=GRAY, ha="center", va="center",
             rotation=90)

fig.savefig("out.png", dpi=100)
